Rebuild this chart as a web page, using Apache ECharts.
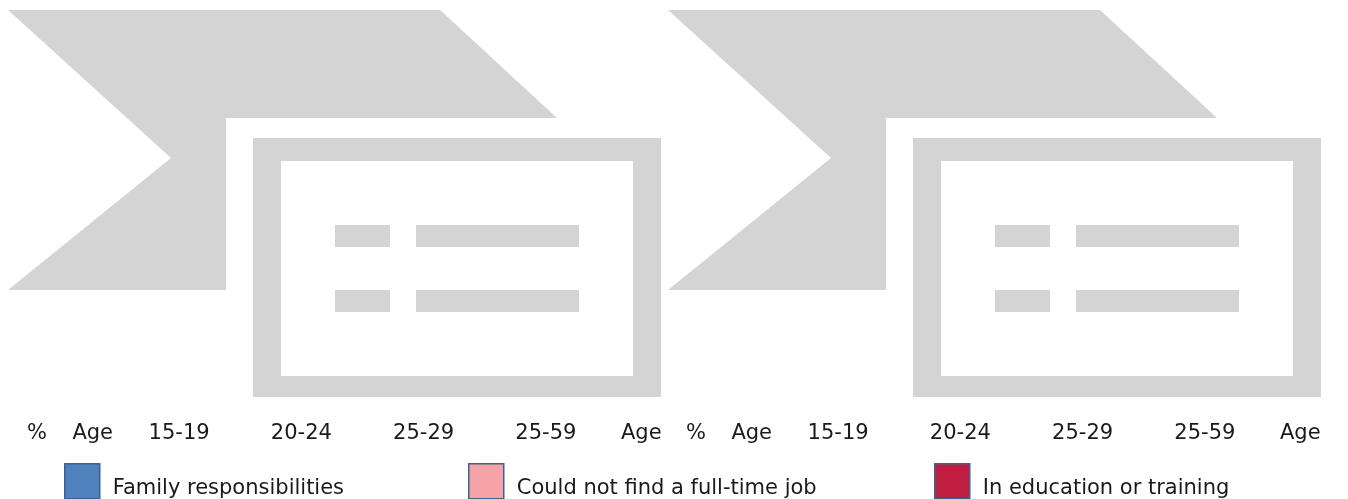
<!DOCTYPE html>
<html>
<head>
<meta charset="utf-8">
<style>
  html, body { margin: 0; padding: 0; background: #ffffff; }
  #chart { width: 1348px; height: 499px; }
</style>
<script src="https://cdn.jsdelivr.net/npm/echarts@6/dist/echarts.min.js"></script>
</head>
<body>
<div id="chart"></div>
<script>
// ---- data (the chart areas show only an image placeholder, so no bar values are visible) ----
var ageGroups = ['15-19', '20-24', '25-29', '25-59'];
var xAxisName = 'Age';
var yAxisName = '%';
var seriesNames = ['Family responsibilities', 'Could not find a full-time job', 'In education or training'];
var familyLeft = [null, null, null, null];
var jobLeft = [null, null, null, null];
var educationLeft = [null, null, null, null];
var familyRight = [null, null, null, null];
var jobRight = [null, null, null, null];
var educationRight = [null, null, null, null];

// ---- styles ----
var FONT = 'DejaVu Sans';
var TXT = '#1a1a1a';
var GRAY = '#d3d4d3';
var colors = ['#4f81bd', '#f5a3a6', '#c01e40'];
var borderCol = '#3d6190';

function placeholder(dx) {
  var g = [];
  g.push({ type: 'polygon', silent: true, z: 1,
    shape: { points: [[8 + dx, 10], [440 + dx, 10], [557 + dx, 118], [226 + dx, 118], [226 + dx, 290], [8 + dx, 290], [171 + dx, 158]] },
    style: { fill: GRAY } });
  g.push({ type: 'rect', silent: true, z: 1, shape: { x: 253 + dx, y: 138, width: 408, height: 259 }, style: { fill: GRAY } });
  g.push({ type: 'rect', silent: true, z: 2, shape: { x: 281 + dx, y: 161, width: 352, height: 215 }, style: { fill: '#ffffff' } });
  [[335, 55], [416, 163]].forEach(function (b) {
    [225, 290].forEach(function (y) {
      g.push({ type: 'rect', silent: true, z: 3, shape: { x: b[0] + dx, y: y, width: b[1], height: 22 }, style: { fill: GRAY } });
    });
  });
  return g;
}

var grids = [
  { left: 118, width: 489, top: 10, bottom: 84 },
  { left: 777, width: 489, top: 10, bottom: 84 }
];

function xAxes(gi) {
  var base = {
    type: 'category', gridIndex: gi, data: ageGroups, position: 'bottom',
    axisLine: { show: false }, axisTick: { show: false }, splitLine: { show: false }
  };
  return [
    Object.assign({}, base, {
      axisLabel: { show: true, color: TXT, fontFamily: FONT, fontSize: 21, margin: 8 },
      name: xAxisName, nameLocation: 'start', nameGap: 5,
      nameTextStyle: { color: TXT, fontFamily: FONT, fontSize: 21, verticalAlign: 'top', padding: [8, 0, 0, 0] }
    }),
    Object.assign({}, base, {
      axisLabel: { show: false },
      name: xAxisName, nameLocation: 'end', nameGap: 14,
      nameTextStyle: { color: TXT, fontFamily: FONT, fontSize: 21, verticalAlign: 'top', padding: [8, 0, 0, 0] }
    })
  ];
}

function yAxis(gi) {
  return {
    type: 'value', gridIndex: gi, min: 0, max: 100, offset: 81,
    axisLine: { show: false }, axisTick: { show: false }, axisLabel: { show: false }, splitLine: { show: false },
    name: yAxisName, nameLocation: 'start', nameGap: 8,
    nameTextStyle: { color: TXT, fontFamily: FONT, fontSize: 21 }
  };
}

function bars(xi, yi, vals) {
  return vals.map(function (v, i) {
    return { name: seriesNames[i], type: 'bar', xAxisIndex: xi, yAxisIndex: yi, data: v,
      itemStyle: { color: colors[i], borderColor: borderCol, borderWidth: 1 } };
  });
}

var legendLefts = [59, 463, 929];
var legends = seriesNames.map(function (n, i) {
  return {
    left: legendLefts[i], top: 458, orient: 'horizontal', icon: 'rect',
    itemWidth: 35, itemHeight: 35, selectedMode: false,
    data: [n],
    itemStyle: { borderColor: borderCol, borderWidth: 1.5 },
    formatter: '{a|{name}}',
    textStyle: {
      color: TXT, fontFamily: FONT, fontSize: 21,
      rich: { a: { color: TXT, fontFamily: FONT, fontSize: 21, padding: [14, 0, 0, 8] } }
    }
  };
});

var chart = echarts.init(document.getElementById('chart'), null, { renderer: 'canvas' });
chart.setOption({
  animation: false,
  backgroundColor: '#ffffff',
  color: colors,
  grid: grids,
  xAxis: xAxes(0).concat(xAxes(1)),
  yAxis: [yAxis(0), yAxis(1)],
  legend: legends,
  series: bars(0, 0, [familyLeft, jobLeft, educationLeft]).concat(bars(2, 1, [familyRight, jobRight, educationRight])),
  graphic: { elements: placeholder(0).concat(placeholder(660)) }
});
</script>
</body>
</html>
